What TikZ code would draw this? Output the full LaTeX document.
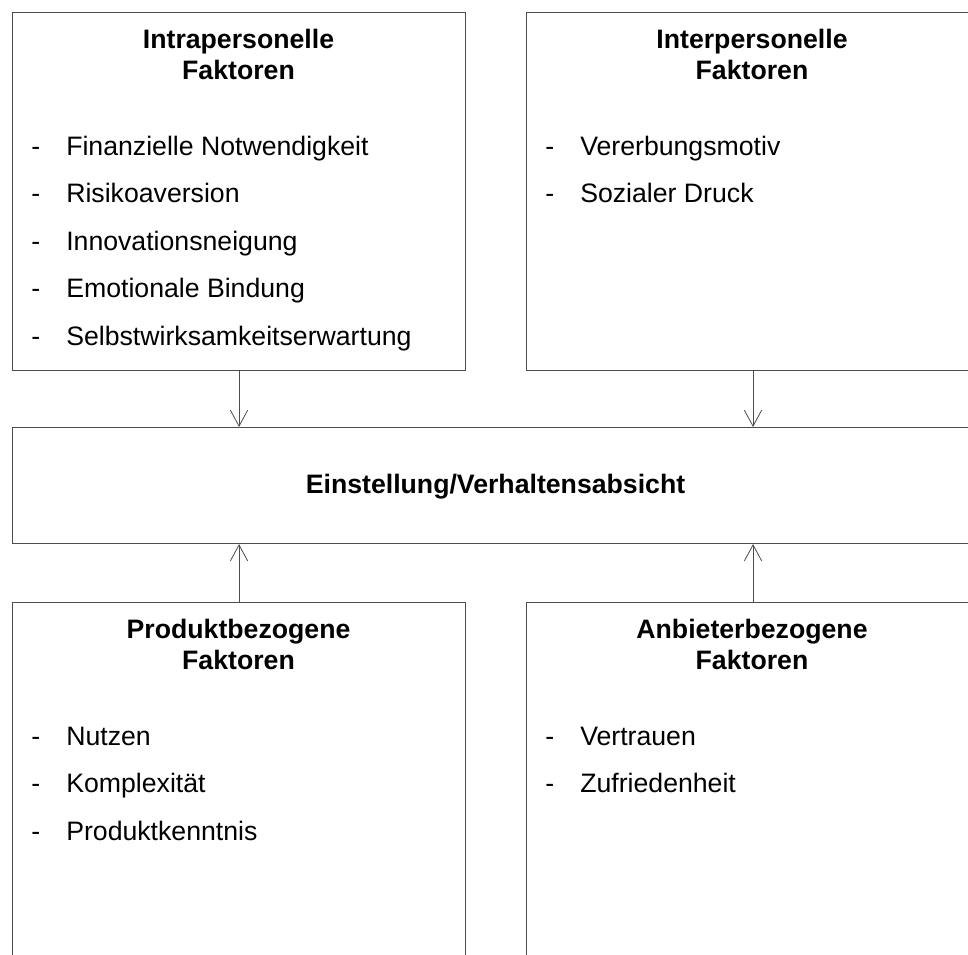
\documentclass[tikz,border=0pt]{standalone}
\usepackage{fontspec}
\setmainfont{Liberation Sans}
\usetikzlibrary{arrows.meta, positioning}

\begin{document}
\begin{tikzpicture}[
    x=0.75pt, y=-0.75pt,
    box/.style={draw=black!70, line width=0.8pt, anchor=north west,
                minimum width=339.75pt, minimum height=268.5pt, inner sep=0pt},
    wide/.style={draw=black!70, line width=0.8pt, anchor=north west,
                minimum width=725.25pt, minimum height=87pt, inner sep=0pt},
    title/.style={font=\bfseries\fontsize{20}{23.25}\selectfont, align=center,
                  anchor=base, inner sep=0pt},
    item/.style={font=\fontsize{20}{24}\selectfont, anchor=base west, inner sep=0pt},
    arrow/.style={-{Straight Barb[length=12pt, width=13pt]}, draw=black!70, line width=0.6pt},
]
\useasboundingbox (0,0) rectangle (968,954);
\clip (0,0) rectangle (968,954);

% Boxes
\node[box] (intra) at (12,12) {};
\node[box] (inter) at (526,12) {};
\node[wide] (einst) at (12,427) {};
\node[box] (produkt) at (12,602) {};
\node[box] (anbieter) at (526,602) {};

% Titles (base = last line)
\node[title] (intra-t) at (238.5,79) {Intrapersonelle\\Faktoren};
\node[title] (inter-t) at (752,79) {Interpersonelle\\Faktoren};
\node[title] (einst-t) at (495.5,493) {Einstellung/Verhaltensabsicht};
\node[title] (produkt-t) at (238.5,669) {Produktbezogene\\Faktoren};
\node[title] (anbieter-t) at (752,669) {Anbieterbezogene\\Faktoren};

% Lists
\foreach \t [count=\i from 0] in {Finanzielle Notwendigkeit, Risikoaversion,
        Innovationsneigung, Emotionale Bindung, Selbstwirksamkeitserwartung} {
    \node[item] (intra-d\i) at (31,{155+47.5*\i}) {-};
    \node[item] (intra-\i) at (66,{155+47.5*\i}) {\t};
}
\foreach \t [count=\i from 0] in {Vererbungsmotiv, Sozialer Druck} {
    \node[item] (inter-d\i) at (545,{155+47.5*\i}) {-};
    \node[item] (inter-\i) at (580,{155+47.5*\i}) {\t};
}
\foreach \t [count=\i from 0] in {Nutzen, Komplexität, Produktkenntnis} {
    \node[item] (produkt-d\i) at (31,{745+47.5*\i}) {-};
    \node[item] (produkt-\i) at (66,{745+47.5*\i}) {\t};
}
\foreach \t [count=\i from 0] in {Vertrauen, Zufriedenheit} {
    \node[item] (anbieter-d\i) at (545,{745+47.5*\i}) {-};
    \node[item] (anbieter-\i) at (580,{745+47.5*\i}) {\t};
}

% Arrows
\draw[arrow] (intra.south) -- (intra.south |- einst.north);
\draw[arrow] (inter.south) -- (inter.south |- einst.north);
\draw[arrow] (produkt.north) -- (produkt.north |- einst.south);
\draw[arrow] (anbieter.north) -- (anbieter.north |- einst.south);
\end{tikzpicture}
\end{document}
